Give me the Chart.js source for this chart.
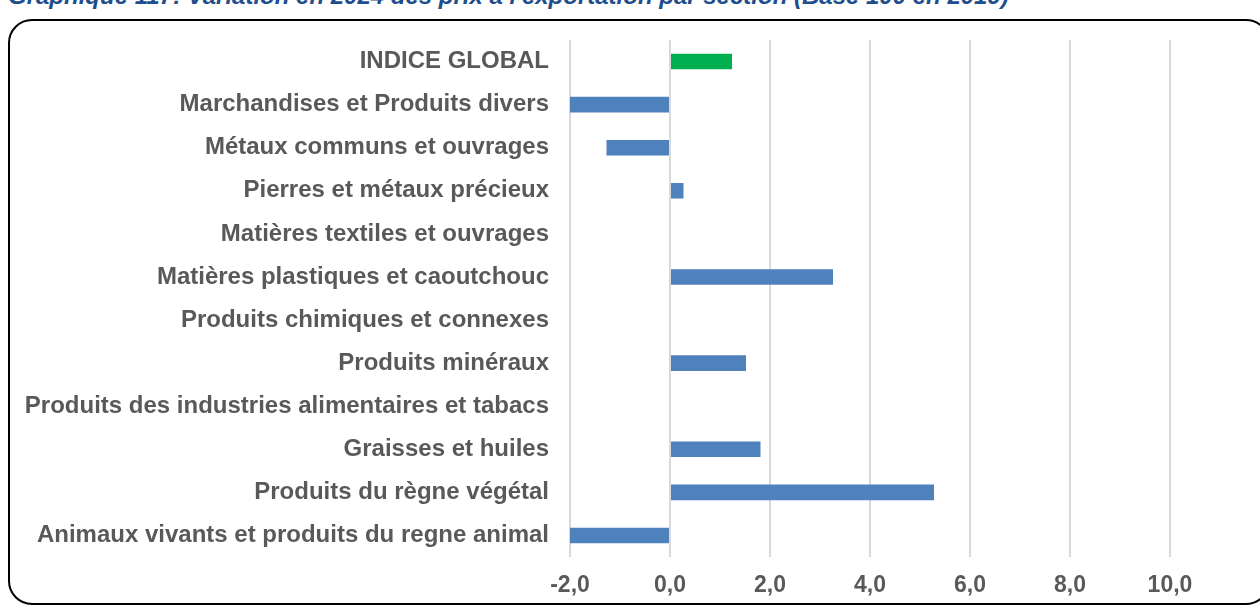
<!DOCTYPE html>
<html>
<head>
<meta charset="utf-8">
<script src="https://cdn.jsdelivr.net/npm/chart.js@4/dist/chart.umd.min.js"></script>
<style>
    html, body { margin: 0; padding: 0; background: #fff; }
    #wrap { position: relative; width: 1260px; height: 607px; overflow: hidden; }
    #title {
        position: absolute; left: 8px; top: -18px;
        font: italic bold 24px "Liberation Sans", Arial, sans-serif;
        color: #1f4e8c; white-space: nowrap;
    }
    #frame {
        position: absolute; left: 8px; top: 19px; width: 1262px; height: 586px;
        border: 2px solid #000; border-radius: 24px; box-sizing: border-box;
    }
    #chartBox { position: absolute; left: 0; top: 0; width: 1260px; height: 607px; }
</style>
</head>
<body>
<div id="wrap">
    <div id="title">Graphique 117: Variation en 2024 des prix à l'exportation par section (Base 100 en 2019)</div>
    <div id="frame"></div>
    <div id="chartBox"><canvas id="chartBar"></canvas></div>
</div>
<script>
// ==========Data===========
const categories = [
    'INDICE GLOBAL',
    'Marchandises et Produits divers',
    'Métaux communs et ouvrages',
    'Pierres et métaux précieux',
    'Matières textiles et ouvrages',
    'Matières plastiques et caoutchouc',
    'Produits chimiques et connexes',
    'Produits minéraux',
    'Produits des industries alimentaires et tabacs',
    'Graisses et huiles',
    'Produits du règne végétal',
    'Animaux vivants et produits du regne animal'
];
const variations = [1.24, -2.0, -1.27, 0.27, 0, 3.26, 0, 1.52, 0, 1.81, 5.28, -2.0];
const barColors = ['#00b050', '#4f81bd', '#4f81bd', '#4f81bd', '#4f81bd', '#4f81bd',
    '#4f81bd', '#4f81bd', '#4f81bd', '#4f81bd', '#4f81bd', '#4f81bd'];
const xTicks = [-2, 0, 2, 4, 6, 8, 10];

const fontFamily = '"Liberation Sans", Arial, sans-serif';

const ctx = document.getElementById('chartBar');
new Chart(ctx, {
    type: 'bar',
    data: {
        labels: categories,
        datasets: [{
            data: variations,
            backgroundColor: barColors,
            borderWidth: 0,
            barPercentage: 0.72,
            categoryPercentage: 0.5
        }]
    },
    options: {
        indexAxis: 'y',
        responsive: true,
        maintainAspectRatio: false,
        animation: false,
        layout: { padding: { left: 0, right: 90, top: 40, bottom: 0 } },
        plugins: { legend: { display: false }, tooltip: { enabled: false } },
        scales: {
            x: {
                min: -2,
                max: 10,
                afterBuildTicks: function (axis) {
                    axis.ticks = xTicks.map(v => ({ value: v }));
                },
                afterFit: function (axis) { axis.height = 50; },
                grid: { color: '#d9d9d9', lineWidth: 2, drawTicks: false },
                border: { display: false },
                ticks: {
                    color: '#595959',
                    font: { family: fontFamily, size: 23, weight: 'bold' },
                    padding: 15,
                    callback: function (value) {
                        return value.toFixed(1).replace('.', ',');
                    }
                }
            },
            y: {
                afterFit: function (axis) { axis.width = 570; },
                grid: { display: false },
                border: { display: false },
                ticks: {
                    color: '#595959',
                    font: { family: fontFamily, size: 24, weight: 'bold' },
                    padding: 13,
                    autoSkip: false
                }
            }
        }
    }
});
</script>
</body>
</html>
